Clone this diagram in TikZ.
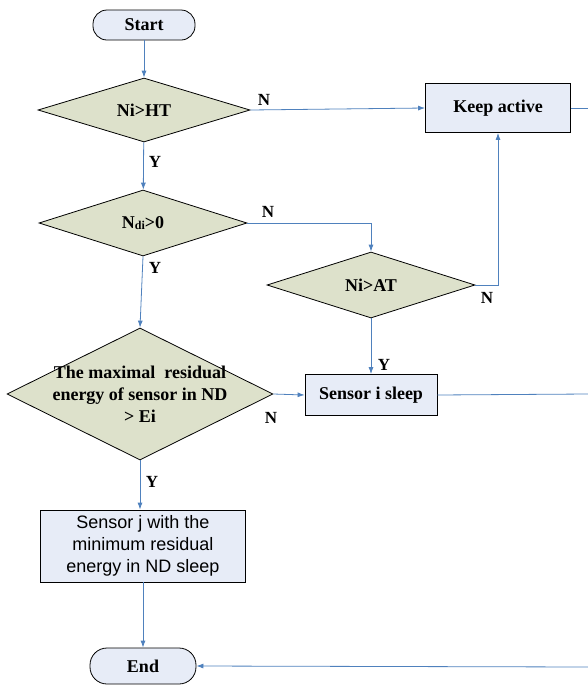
\documentclass[tikz,border=0pt]{standalone}
\usepackage{fontspec}
\setmainfont{Liberation Serif}
\newfontfamily\arialfont{Liberation Sans}
\usetikzlibrary{shapes.geometric, arrows.meta}

\definecolor{flowblue}{RGB}{79,129,189}
\definecolor{boxfill}{RGB}{231,236,247}
\definecolor{decfill}{RGB}{221,225,203}

\tikzset{
	terminal/.style={draw=black, line width=0.8pt, fill=boxfill, rounded corners=14pt, font=\bfseries\fontsize{18}{22}\selectfont},
	process/.style={draw=black, line width=0.8pt, fill=boxfill, align=center, font=\bfseries\fontsize{18}{22}\selectfont},
	decision/.style={diamond, aspect=3, draw=black, line width=0.8pt, fill=decfill, inner sep=0pt, align=center, font=\bfseries\fontsize{18}{22}\selectfont},
	flow/.style={draw=flowblue, line width=0.8pt, -{Latex[length=7pt,width=5pt]}},
	plainflow/.style={draw=flowblue, line width=0.8pt},
	answer/.style={font=\bfseries\fontsize{17}{17}\selectfont}
}

\begin{document}
\begin{tikzpicture}[x=1pt, y=-1pt]
		\useasboundingbox (0,0) rectangle (588,686);

		\node[terminal, minimum width=102pt, minimum height=30pt] (start) at (144,25) {Start};
		\node[decision, minimum width=212pt, minimum height=64pt] (cmpht) at (144,110) {Ni>HT};
		\node[decision, minimum width=208pt, minimum height=66pt] (cmpnd) at (143,223) {N\raisebox{-1.5pt}{\fontsize{12}{12}\selectfont di}>0};
		\node[decision, minimum width=266pt, minimum height=132pt] (cmpen) at (140,394) {};
		\node[align=center, font=\bfseries\fontsize{18}{22}\selectfont] (cmpentext) at (cmpen) {The maximal\ \ residual\\energy of sensor in ND\\> Ei};
		\node[process, font=\arialfont\fontsize{18}{22}\selectfont, minimum width=205pt, minimum height=72pt, inner sep=0pt] (sleepj) at (143,546) {Sensor j with the\\minimum residual\\energy in ND sleep};
		\node[terminal, rounded corners=17pt, minimum width=106pt, minimum height=36pt] (end) at (143,666) {End};

		\node[decision, minimum width=208pt, minimum height=66pt] (cmpat) at (371,285) {Ni>AT};
		\node[process, minimum width=145pt, minimum height=49pt] (keep) at (498,108) {Keep active};
		\node[process, minimum width=132pt, minimum height=41pt] (sleepi) at (371,395) {Sensor i sleep};

		\coordinate (keepout) at (588,108);
		\coordinate (sleepout) at (588,394);
		\coordinate (endin) at (588,667);

		\draw[flow] (start) -- (cmpht);
		\draw[flow] (cmpht.east) -- (keep.west);
		\draw[flow] (cmpht) -- (cmpnd);
		\draw[flow] (cmpnd.east) -| (cmpat.north);
		\draw[flow] (cmpat.east) -| (keep.south);
		\draw[flow] (cmpat) -- (sleepi);
		\draw[flow] (cmpnd.south) -- (cmpen.north);
		\draw[flow] (cmpen.east) -- (sleepi.west);
		\draw[flow] (cmpen.south) -- (cmpen.south |- sleepj.north);
		\draw[flow] (sleepj) -- (end);
		\draw[plainflow] (keep.east) -- (keepout);
		\draw[plainflow] (sleepi.east) -- (sleepout);
		\draw[flow] (endin) -- (end.east);

		\node[answer] (n1) at (264,100) {N};
		\node[answer] (y1) at (155,162) {Y};
		\node[answer] (n2) at (268,212) {N};
		\node[answer] (y2) at (155,268) {Y};
		\node[answer] (n3) at (487,298) {N};
		\node[answer] (y3) at (384,365) {Y};
		\node[answer] (n4) at (271,418) {N};
		\node[answer] (y4) at (152,482) {Y};
	\end{tikzpicture}
\end{document}
